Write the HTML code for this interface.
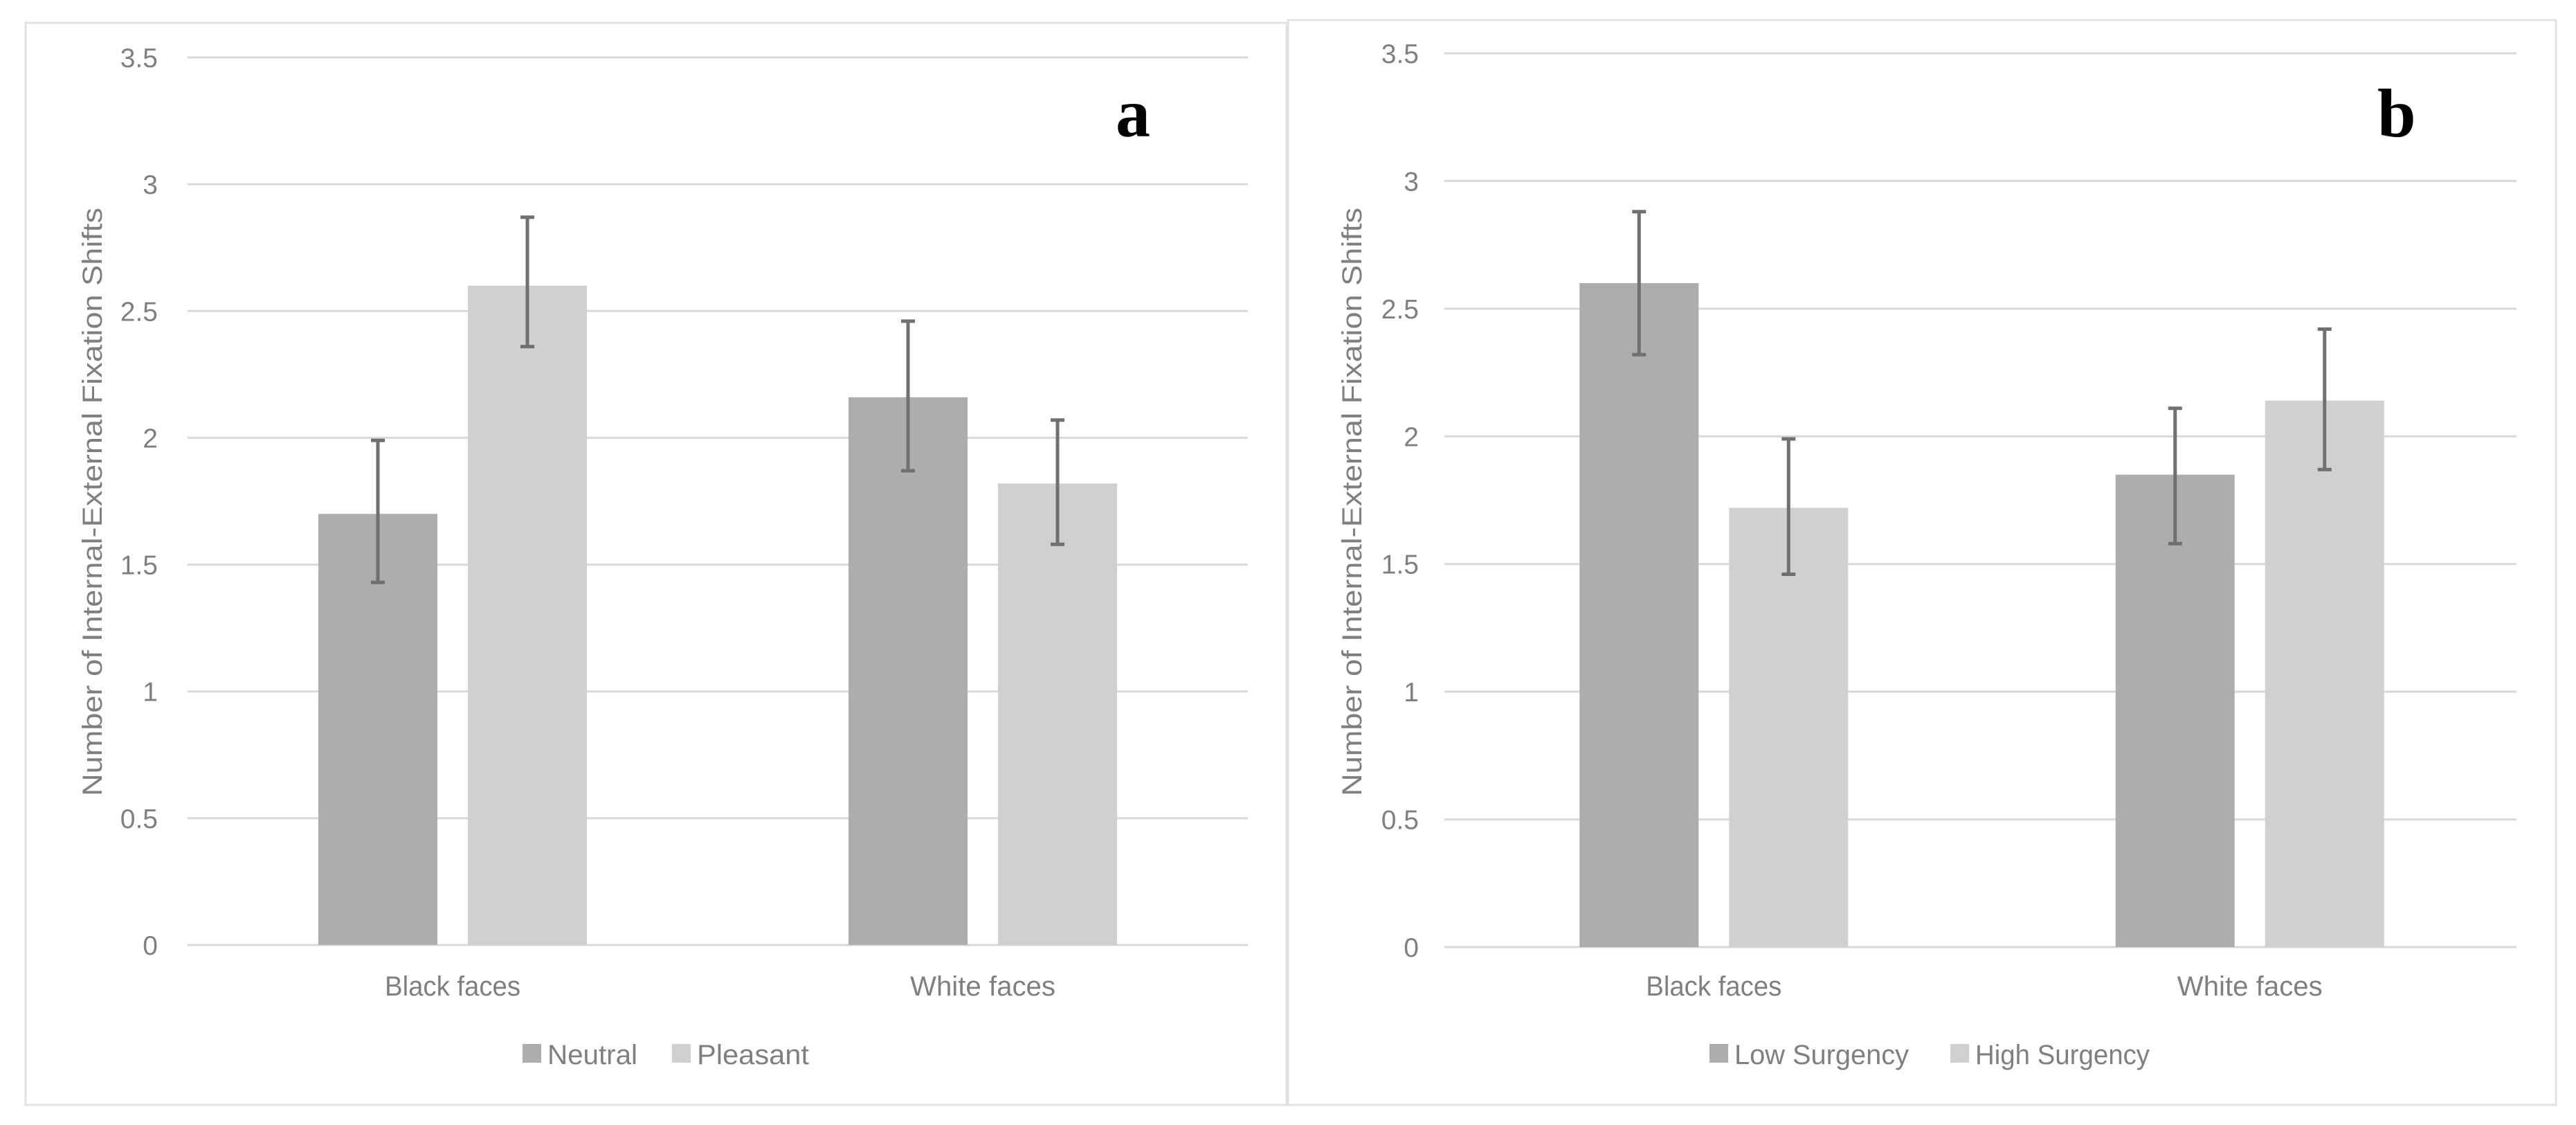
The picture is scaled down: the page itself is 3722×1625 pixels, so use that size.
<!DOCTYPE html>
<html><head><meta charset="utf-8"><style>
html,body{margin:0;padding:0;background:#fff;}
svg{display:block;font-family:"Liberation Sans",sans-serif;}
</style></head><body>
<svg id="fig" width="3722" height="1625" viewBox="0 0 3722 1625" xmlns="http://www.w3.org/2000/svg"></svg>
<script>
const categories = ["Black faces", "White faces"];
const tickLabels = ["0","0.5","1","1.5","2","2.5","3","3.5"];
const tickValues = [0,0.5,1,1.5,2,2.5,3,3.5];
const seriesANames = ["Neutral","Pleasant"];
const seriesA1 = [1.70, 2.16];
const seriesA2 = [2.60, 1.82];
const errA1Low = [1.43, 1.87], errA1High = [1.99, 2.46];
const errA2Low = [2.36, 1.58], errA2High = [2.87, 2.07];
const seriesBNames = ["Low Surgency","High Surgency"];
const seriesB1 = [2.60, 1.85];
const seriesB2 = [1.72, 2.14];
const errB1Low = [2.32, 1.58], errB1High = [2.88, 2.11];
const errB2Low = [1.46, 1.87], errB2High = [1.99, 2.42];

const NS = "http://www.w3.org/2000/svg";
const svg = document.getElementById('fig');
function mk(tag, attrs, parent){
  const e = document.createElementNS(NS, tag);
  for (const k in attrs) e.setAttribute(k, attrs[k]);
  (parent||svg).appendChild(e);
  return e;
}
const COLORS = ["#adadad", "#d0d0d0"];

function panel(cfg){
  const g = mk('g', {});
  
  
  const border = mk('rect', {x:cfg.bx, y:cfg.by, width:cfg.bw, height:cfg.bh, fill:'none', stroke:'#e2e2e2', 'stroke-width':3}, g);
  
  
  const y = v => cfg.y0 - (v/3.5)*(cfg.y0 - cfg.y35);
  tickValues.forEach((v,i)=>{
    const l = mk('line', {x1:cfg.gx0, x2:cfg.gx1, y1:y(v), y2:y(v), stroke:'#d9d9d9', 'stroke-width':3}, g);
    
    
    const t = mk('text', {x:cfg.tickX, y:y(v)+14, 'text-anchor':'end', 'font-size':39, fill:'#7f7f7f'}, g);
    t.textContent = tickLabels[i];
    
    
  });
  const series = [cfg.s1, cfg.s2];
  const lows = [cfg.l1, cfg.l2], highs = [cfg.h1, cfg.h2];
  const bw = 172;
  const catW = (cfg.gx1 - cfg.gx0)/categories.length;
  categories.forEach((c,ci)=>{
    const cx = cfg.gx0 + catW*(ci+0.5);
    series.forEach((s,si)=>{
      const x = cx + (si===0 ? -bw-22 : 22) + cfg.shift;
      const r = mk('rect', {x:x, y:y(s[ci]), width:bw, height:y(0)-y(s[ci]), fill:COLORS[si]}, g);
      
      
      const ex = x + bw/2;
      const eg = mk('g', {stroke:'#707070', 'stroke-width':5, fill:'none'}, g);
      
      
      mk('line', {x1:ex, x2:ex, y1:y(lows[si][ci]), y2:y(highs[si][ci])}, eg);
      mk('line', {x1:ex-10, x2:ex+10, y1:y(lows[si][ci]), y2:y(lows[si][ci])}, eg);
      mk('line', {x1:ex-10, x2:ex+10, y1:y(highs[si][ci]), y2:y(highs[si][ci])}, eg);
    });
    const t = mk('text', {x:cx + cfg.shift, y:1438, 'text-anchor':'middle', 'font-size':40, fill:'#7f7f7f', textLength: c==="Black faces"?196:210, lengthAdjust:'spacingAndGlyphs'}, g);
    t.textContent = c;
    
    
  });
  const yt = mk('text', {x:0, y:0, transform:`translate(${cfg.titleX},725) rotate(-90)`, 'text-anchor':'middle', 'font-size':40, fill:'#7f7f7f', textLength:850, lengthAdjust:'spacingAndGlyphs'}, g);
  yt.textContent = "Number of Internal-External Fixation Shifts";
  
  
  const lt = mk('text', {x:cfg.letterX, y:197, 'font-size':100, 'font-weight':'bold', 'font-family':'Liberation Serif, serif', fill:'#000'}, g);
  lt.textContent = cfg.letter;
  
  
  cfg.names.forEach((n,si)=>{
    const lg = mk('g', {}, g);
    
    
    mk('rect', {x:cfg.legX[si], y:1508, width:27, height:27, fill:COLORS[si]}, lg);
    const t = mk('text', {x:cfg.legX[si]+36, y:1537, 'font-size':40, fill:'#7f7f7f', textLength:cfg.legW[si], lengthAdjust:'spacingAndGlyphs'}, lg);
    t.textContent = n;
  });
}

panel({letter:'a', bx:37, by:33, bw:1822, bh:1563, gx0:271, gx1:1803, y0:1365, y35:83,
  tickX:228, titleX:147, letterX:1612, shift:0,
  s1:seriesA1, s2:seriesA2, l1:errA1Low, h1:errA1High, l2:errA2Low, h2:errA2High,
  names:seriesANames, legX:[755,971], legW:[130,162]});
panel({letter:'b', bx:1861, by:29, bw:1832, bh:1567, gx0:2087, gx1:3636, y0:1368, y35:77,
  tickX:2050, titleX:1967, letterX:3435, shift:2,
  s1:seriesB1, s2:seriesB2, l1:errB1Low, h1:errB1High, l2:errB2Low, h2:errB2High,
  names:seriesBNames, legX:[2470,2818], legW:[252,252]});
</script>
</body></html>
